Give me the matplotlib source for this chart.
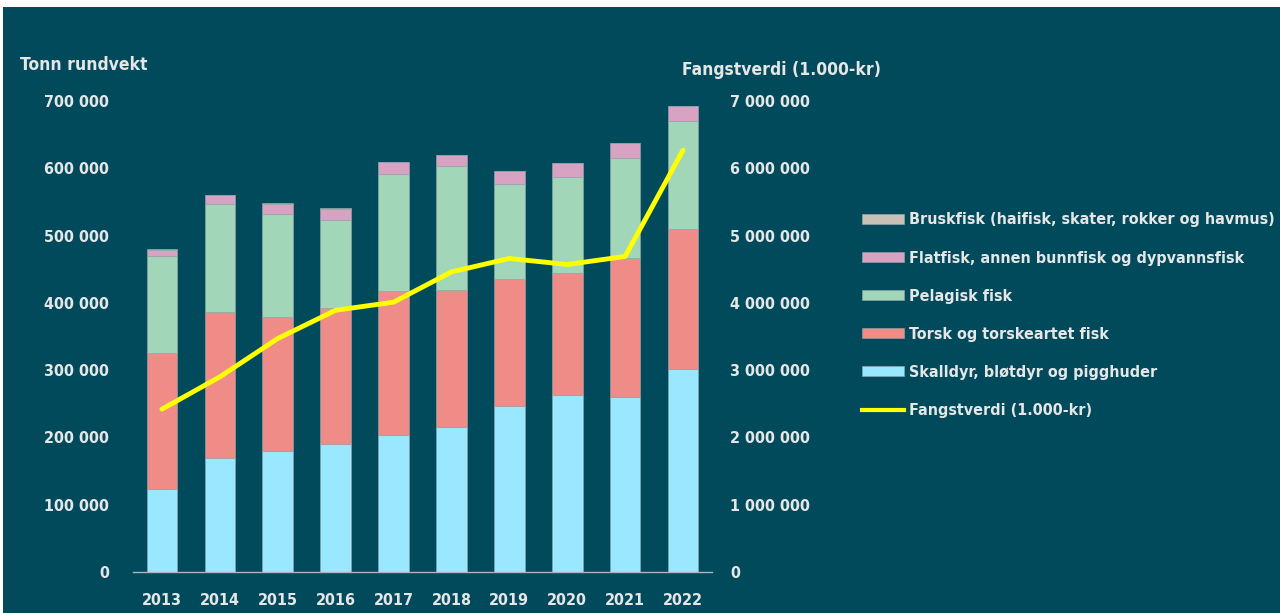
import matplotlib.pyplot as plt
from matplotlib.patches import Rectangle
from matplotlib.lines import Line2D

# Data (tonn rundvekt, 1000 tonn) og fangstverdi (mill. 1.000-kr)
years = ['2013', '2014', '2015', '2016', '2017', '2018', '2019', '2020', '2021', '2022']
skalldyr = [124, 170, 180, 190, 203, 215, 246, 263, 260, 301]
torsk = [202, 217, 199, 202, 215, 204, 189, 181, 207, 209]
pelagisk = [143.5, 160.5, 153.5, 131, 173, 184, 141, 143, 148, 161]
flatfisk = [9.5, 12.4, 15, 17, 18, 17, 20, 21, 22, 22]
bruskfisk = [0.4, 0.4, 0.3, 0.3, 0.4, 0.4, 0.3, 0.3, 0.3, 0.3]
fangstverdi = [2.42, 2.90, 3.47, 3.89, 4.01, 4.46, 4.66, 4.57, 4.69, 6.27]

labels = ['Bruskfisk (haifisk, skater, rokker og havmus)',
          'Flatfisk, annen bunnfisk og dypvannsfisk',
          'Pelagisk fisk',
          'Torsk og torskeartet fisk',
          'Skalldyr, bløtdyr og pigghuder',
          'Fangstverdi (1.000-kr)']

BG = '#004a5c'
TXT = '#e6e6e6'
colors = {'skall': '#99e8ff', 'torsk': '#f08c88', 'pelag': '#a2d6b8',
          'flat': '#d8a2c2', 'brusk': '#c9c0b6'}

plt.rcParams['font.family'] = ['DejaVu Sans']
plt.rcParams['font.stretch'] = 'condensed'
plt.rcParams['font.weight'] = 'bold'

fig = plt.figure(figsize=(12.8, 6.13), dpi=100, facecolor='white')
fig.patches.append(Rectangle((3 / 1280, 0), 1, (613 - 7) / 613, transform=fig.transFigure,
                             facecolor=BG, edgecolor='none', zorder=-10))

ax = fig.add_axes([133 / 1280, 41 / 613, 579 / 1280, 471 / 613])
ax.set_facecolor('none')

x = range(len(years))
s = [v * 1000 for v in skalldyr]
t = [v * 1000 for v in torsk]
p = [v * 1000 for v in pelagisk]
f = [v * 1000 for v in flatfisk]
b = [v * 1000 for v in bruskfisk]
w = 0.53
ec = '#9aa9ad'
bot = [0] * len(years)
for vals, key in [(s, 'skall'), (t, 'torsk'), (p, 'pelag'), (f, 'flat'), (b, 'brusk')]:
    ax.bar(x, vals, w, bottom=bot, color=colors[key], edgecolor=ec, linewidth=0.4, zorder=2)
    bot = [a + c for a, c in zip(bot, vals)]

ax.set_xlim(-0.5, len(years) - 0.5)
ax.set_ylim(0, 700000)
ax.set_yticks(range(0, 700001, 100000))
ax.set_yticklabels([f'{v:,}'.replace(',', ' ') for v in range(0, 700001, 100000)])
ax.set_xticks(list(x))
ax.set_xticklabels(years)
ax.tick_params(axis='both', length=0, colors=TXT, labelsize=11.5)
ax.tick_params(axis='y', pad=17)
ax.tick_params(axis='x', pad=15)
for sp in ['left', 'right', 'top']:
    ax.spines[sp].set_visible(False)
ax.spines['bottom'].set_color('#a9b8bc')
ax.spines['bottom'].set_linewidth(1)

ax2 = ax.twinx()
ax2.set_ylim(0, 7000000)
ax2.plot(list(x), [v * 1e6 for v in fangstverdi], color='#ffff00', linewidth=3.5, zorder=5,
         solid_capstyle='round', solid_joinstyle='round')
ax2.set_yticks(range(0, 7000001, 1000000))
ax2.set_yticklabels([f'{v:,}'.replace(',', ' ') for v in range(0, 7000001, 1000000)])
ax2.tick_params(axis='y', length=0, colors=TXT, labelsize=11.5, pad=13)
for sp in ax2.spines.values():
    sp.set_visible(False)

fig.text(20 / 1280, 1 - 65 / 613, 'Tonn rundvekt', color=TXT, fontsize=12.5, fontweight='bold', va='center')
fig.text(682 / 1280, 1 - 70 / 613, 'Fangstverdi (1.000-kr)', color=TXT, fontsize=12.5, fontweight='bold', va='center')

handles = [Rectangle((0, 0), 1, 1, facecolor=colors['brusk'], edgecolor=ec, linewidth=0.4),
           Rectangle((0, 0), 1, 1, facecolor=colors['flat'], edgecolor=ec, linewidth=0.4),
           Rectangle((0, 0), 1, 1, facecolor=colors['pelag'], edgecolor=ec, linewidth=0.4),
           Rectangle((0, 0), 1, 1, facecolor=colors['torsk'], edgecolor=ec, linewidth=0.4),
           Rectangle((0, 0), 1, 1, facecolor=colors['skall'], edgecolor=ec, linewidth=0.4),
           Line2D([0], [0], color='#ffff00', linewidth=3)]
leg = fig.legend(handles, labels, loc='upper left', bbox_to_anchor=(856 / 1280, 1 - 206 / 613),
                 frameon=False, fontsize=11.5, handlelength=2.6, handleheight=0.6,
                 labelspacing=1.45, handletextpad=0.3, borderaxespad=0)
for txt in leg.get_texts():
    txt.set_color(TXT)

fig.savefig('out.png', dpi=100, facecolor=fig.get_facecolor())
